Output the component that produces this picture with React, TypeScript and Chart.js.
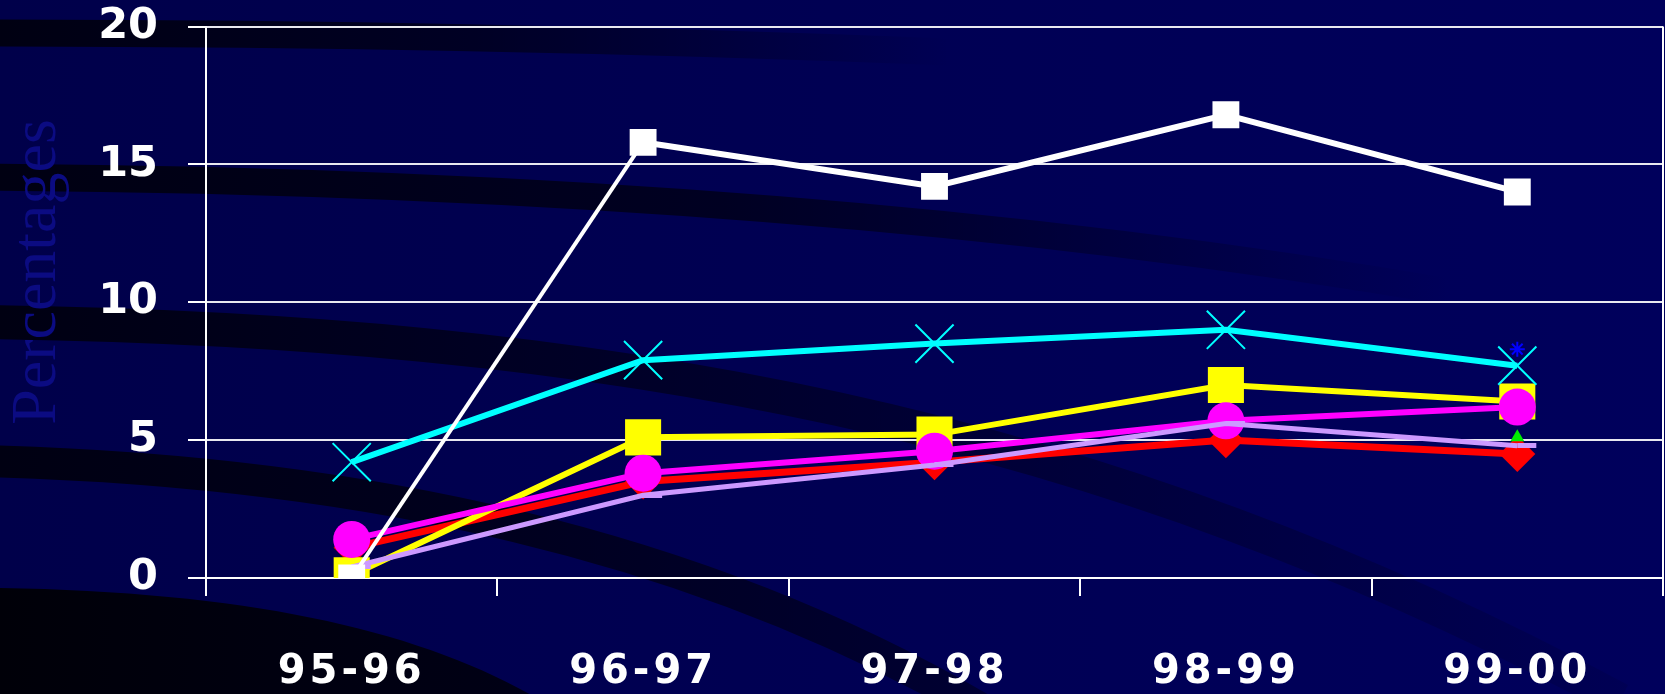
import { useEffect, useRef } from 'react';
import { Chart, registerables, CategoryScale } from 'chart.js';

Chart.register(...registerables);

// Category axis whose tick labels are drawn with extra letter spacing.
class SpacedCategoryScale extends CategoryScale {
  static id = 'spacedCategory';
  static defaults = CategoryScale.defaults;
  drawLabels(chartArea: any) {
    const ctx: any = this.ctx;
    const prev = ctx.letterSpacing;
    ctx.letterSpacing = '4px';
    super.drawLabels(chartArea);
    ctx.letterSpacing = prev || '0px';
  }
}
Chart.register(SpacedCategoryScale as any);

const years = ['95-96', '96-97', '97-98', '98-99', '99-00'];
const yTicks = [0, 5, 10, 15, 20];

const whiteSeries = [0, 15.8, 14.2, 16.8, 14.0];
const cyanSeries = [4.2, 7.9, 8.5, 9.0, 7.7];
const yellowSeries = [0.1, 5.1, 5.2, 7.0, 6.4];
const magentaSeries = [1.4, 3.8, 4.6, 5.7, 6.2];
const redSeries = [1.1, 3.5, 4.2, 5.0, 4.5];
const lavenderSeries = [0.4, 3.0, 4.1, 5.6, 4.8];
const greenSeries = [null, null, null, null, 5.1];
const blueSeries = [null, null, null, null, 8.3];

const axisTitle = 'Percentages';

const W = 1665;
const H = 694;

// Navy slide backdrop with dark sweeping bands and the rotated axis title.
const backdropPlugin = {
  id: 'backdrop',
  beforeDraw(chart: any) {
    const ctx: CanvasRenderingContext2D = chart.ctx;
    ctx.save();
    const bg = ctx.createLinearGradient(0, 0, W, 0);
    bg.addColorStop(0, '#00004a');
    bg.addColorStop(1, '#00005c');
    ctx.fillStyle = bg;
    ctx.fillRect(0, 0, W, H);

    const band = (
      path: (c: CanvasRenderingContext2D) => void,
      width: number,
      fadeEnd: number,
      midAlpha: number,
      endAlpha: number
    ) => {
      const g = ctx.createLinearGradient(0, 0, fadeEnd, 0);
      g.addColorStop(0, 'rgba(0,0,18,1)');
      g.addColorStop(0.5, `rgba(0,0,18,${midAlpha})`);
      g.addColorStop(1, `rgba(0,0,18,${endAlpha})`);
      ctx.strokeStyle = g;
      ctx.lineWidth = width;
      ctx.lineCap = 'butt';
      ctx.beginPath();
      path(ctx);
      ctx.stroke();
    };

    band((c) => { c.moveTo(-20, 33); c.bezierCurveTo(300, 33, 600, 38, 950, 52); }, 27, 950, 0.7, 0);
    band((c) => { c.moveTo(-20, 177); c.bezierCurveTo(500, 180, 1000, 215, 1450, 292); }, 27, 1450, 0.75, 0);
    band((c) => { c.moveTo(-20, 322); c.bezierCurveTo(600, 330, 1100, 420, 1620, 700); }, 34, 1620, 0.55, 0.1);
    band((c) => { c.moveTo(-20, 461); c.bezierCurveTo(350, 470, 700, 540, 1000, 720); }, 32, 1000, 0.8, 0.5);

    // darkest corner at the bottom left
    const corner = ctx.createLinearGradient(0, 0, 560, 0);
    corner.addColorStop(0, 'rgba(0,0,8,1)');
    corner.addColorStop(1, 'rgba(0,0,16,0.9)');
    ctx.fillStyle = corner;
    ctx.beginPath();
    ctx.moveTo(0, 588);
    ctx.bezierCurveTo(250, 592, 420, 630, 540, 700);
    ctx.lineTo(0, 700);
    ctx.closePath();
    ctx.fill();

    // axis title
    ctx.translate(55, 272);
    ctx.rotate(-Math.PI / 2);
    ctx.fillStyle = '#0b0b82';
    ctx.font = '64px "Liberation Serif", serif';
    ctx.textAlign = 'center';
    ctx.textBaseline = 'alphabetic';
    ctx.fillText(axisTitle, 0, 0);
    ctx.restore();
  },
  afterDatasetsDraw(chart: any) {
    const { ctx, chartArea } = chart;
    ctx.save();
    ctx.strokeStyle = '#ffffff';
    ctx.lineWidth = 2;
    ctx.beginPath();
    ctx.moveTo(chartArea.right, chartArea.top);
    ctx.lineTo(chartArea.right, chartArea.bottom);
    ctx.stroke();
    ctx.restore();
  },
};

export default function App() {
  const canvasRef = useRef<HTMLCanvasElement | null>(null);

  useEffect(() => {
    document.body.style.margin = '0';
    const canvas = canvasRef.current;
    if (!canvas) return;

    // short dash marker, drawn to the right of the point
    const dash = document.createElement('canvas');
    dash.width = 40;
    dash.height = 5;
    const dctx = dash.getContext('2d');
    if (dctx) {
      dctx.fillStyle = '#cc99ff';
      dctx.fillRect(20, 0, 19, 5);
    }

    const chart = new Chart(canvas, {
      type: 'line',
      data: {
        labels: years,
        datasets: [
          {
            label: 'white',
            data: whiteSeries,
            borderColor: '#ffffff',
            backgroundColor: '#ffffff',
            borderWidth: 6,
            segment: { borderWidth: (c: any) => (c.p0DataIndex === 0 ? 4 : undefined) },
            pointStyle: 'rect',
            pointRadius: 19,
            pointBorderWidth: 0,
            order: 1,
          },
          {
            label: 'lavender',
            data: lavenderSeries,
            borderColor: '#cc99ff',
            backgroundColor: '#cc99ff',
            borderWidth: 5,
            pointStyle: dash as any,
            pointRadius: 10,
            order: 2,
          },
          {
            label: 'blue',
            data: blueSeries,
            borderColor: '#0000ff',
            backgroundColor: '#0000ff',
            borderWidth: 2,
            pointStyle: 'star',
            pointRadius: 7.5,
            pointBorderWidth: 2,
            order: 3,
          },
          {
            label: 'green',
            data: greenSeries,
            borderColor: '#00ff00',
            backgroundColor: '#00ee00',
            borderWidth: 2,
            pointStyle: 'triangle',
            pointRadius: 8,
            pointBorderWidth: 0,
            order: 4,
          },
          {
            label: 'magenta',
            data: magentaSeries,
            borderColor: '#ff00ff',
            backgroundColor: '#ff00ff',
            borderWidth: 6,
            pointStyle: 'circle',
            pointRadius: 18.5,
            pointBorderWidth: 0,
            order: 5,
          },
          {
            label: 'cyan',
            data: cyanSeries,
            borderColor: '#00ffff',
            backgroundColor: '#00ffff',
            borderWidth: 6,
            pointStyle: 'crossRot',
            pointRadius: 27,
            pointBorderWidth: 2,
            order: 6,
          },
          {
            label: 'yellow',
            data: yellowSeries,
            borderColor: '#ffff00',
            backgroundColor: '#ffff00',
            borderWidth: 6,
            pointStyle: 'rect',
            pointRadius: 25.5,
            pointBorderWidth: 0,
            order: 7,
          },
          {
            label: 'red',
            data: redSeries,
            borderColor: '#ff0000',
            backgroundColor: '#ff0000',
            borderWidth: 7,
            pointStyle: 'rectRot',
            pointRadius: 18,
            pointBorderWidth: 0,
            order: 8,
          },
        ],
      },
      options: {
        responsive: false,
        animation: false,
        maintainAspectRatio: false,
        layout: { autoPadding: false, padding: { top: 26.5, right: 2, left: 0, bottom: 0 } },
        plugins: {
          legend: { display: false },
          tooltip: { enabled: false },
          title: { display: false },
        },
        elements: {
          line: { tension: 0 },
        },
        scales: {
          x: {
            type: 'spacedCategory' as any,
            offset: true,
            grid: {
              offset: true,
              drawOnChartArea: false,
              drawTicks: true,
              tickLength: 18,
              color: '#ffffff',
              lineWidth: 2,
            },
            border: { display: true, color: '#ffffff', width: 2 },
            ticks: {
              color: '#ffffff',
              font: { family: '"DejaVu Sans", sans-serif', size: 40, weight: 'bold' },
              padding: 53,
              maxRotation: 0,
              autoSkip: false,
            },
            afterFit: (s: any) => {
              s.height = 116;
              s.paddingLeft = 0;
              s.paddingRight = 0;
            },
          },
          y: {
            min: 0,
            max: 20,
            afterBuildTicks: (s: any) => { s.ticks = yTicks.map((v) => ({ value: v })); },
            grid: {
              color: '#e8e8f0',
              lineWidth: 2,
              tickLength: 18,
              tickColor: '#ffffff',
            },
            border: { display: true, color: '#ffffff', width: 2 },
            ticks: {
              color: '#ffffff',
              font: { family: '"DejaVu Sans", sans-serif', size: 43, weight: 'bold' },
              padding: 30,
            },
            afterFit: (s: any) => {
              s.width = 206;
              s.paddingTop = 0;
              s.paddingBottom = 0;
            },
          },
        },
      },
      plugins: [backdropPlugin],
    } as any);

    return () => chart.destroy();
  }, []);

  return (
    <canvas
      ref={canvasRef}
      width={W}
      height={H}
      style={{ display: 'block', width: W, height: H }}
    />
  );
}
